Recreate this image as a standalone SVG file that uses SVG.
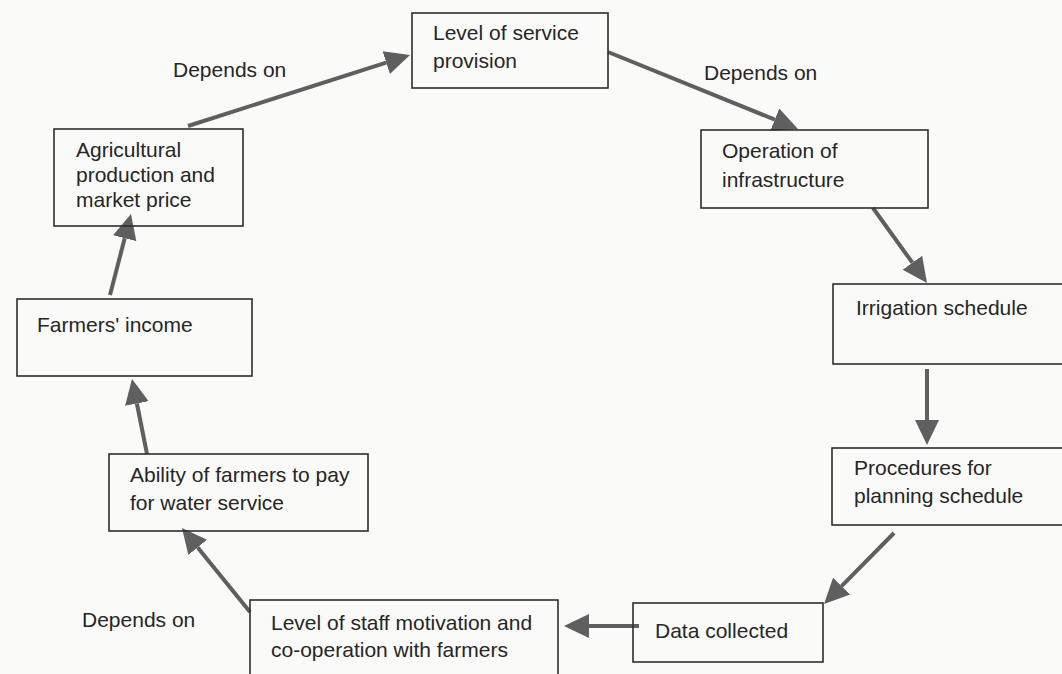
<svg xmlns="http://www.w3.org/2000/svg" width="1062" height="674" viewBox="0 0 1062 674">
  <style>
    .box { fill: none; stroke: #2e2e2e; stroke-width: 1.6; }
    .lbl { font-family: "Liberation Sans", Arial, sans-serif; font-size: 21px; fill: #262626; }
    .conn { stroke: #5f5f5f; stroke-width: 4; fill: none; marker-end: url(#head); }
  </style>
  <defs>
    <marker id="head" markerUnits="userSpaceOnUse" markerWidth="26" markerHeight="26" viewBox="0 -13 26 26" refX="0" refY="0" orient="auto">
      <path d="M0,-12 L25,0 L0,12 Z" fill="#5f5f5f"/>
    </marker>
  </defs>
  <rect width="1062" height="674" fill="#fafaf8"/>

  <!-- connectors (each path ends at the base of its arrowhead) -->
  <g id="connectors">
    <path class="conn" d="M188,126 L386.2,62.6"/>
    <path class="conn" d="M608,52 L774.8,119.6"/>
    <path class="conn" d="M873,208 L912.4,262.7"/>
    <path class="conn" d="M927,369 L927,420"/>
    <path class="conn" d="M894,533 L841.6,586.2"/>
    <path class="conn" d="M639,626 L589,626"/>
    <path class="conn" d="M250,612 L197.7,547.4"/>
    <path class="conn" d="M147,454 L136.9,403.5"/>
    <path class="conn" d="M110,295 L124.7,238.2"/>
  </g>

  <!-- edge labels -->
  <g id="edge-labels">
    <text class="lbl" x="173" y="77">Depends on</text>
    <text class="lbl" x="704" y="80">Depends on</text>
    <text class="lbl" x="82" y="627">Depends on</text>
  </g>

  <g id="service-level">
    <rect class="box" x="412" y="13" width="196" height="75"/>
    <text class="lbl" x="433" y="40">Level of service</text>
    <text class="lbl" x="433" y="68">provision</text>
  </g>

  <g id="operation">
    <rect class="box" x="701" y="130" width="227" height="78"/>
    <text class="lbl" x="722" y="158">Operation of</text>
    <text class="lbl" x="722" y="187">infrastructure</text>
  </g>

  <g id="irrigation-schedule">
    <rect class="box" x="833" y="284" width="240" height="80"/>
    <text class="lbl" x="856" y="315">Irrigation schedule</text>
  </g>

  <g id="planning-procedures">
    <rect class="box" x="832" y="448" width="240" height="77"/>
    <text class="lbl" x="854" y="475">Procedures for</text>
    <text class="lbl" x="854" y="503">planning schedule</text>
  </g>

  <g id="data-collected">
    <rect class="box" x="633" y="603" width="190" height="59"/>
    <text class="lbl" x="655" y="638">Data collected</text>
  </g>

  <g id="staff-motivation">
    <rect class="box" x="250" y="600" width="308" height="90"/>
    <text class="lbl" x="271" y="630">Level of staff motivation and</text>
    <text class="lbl" x="271" y="657">co-operation with farmers</text>
  </g>

  <g id="ability-to-pay">
    <rect class="box" x="109" y="454" width="259" height="77"/>
    <text class="lbl" x="130" y="482">Ability of farmers to pay</text>
    <text class="lbl" x="130" y="510">for water service</text>
  </g>

  <g id="farmers-income">
    <rect class="box" x="17" y="299" width="235" height="77"/>
    <text class="lbl" x="37" y="332">Farmers' income</text>
  </g>

  <g id="agricultural-production">
    <rect class="box" x="54" y="129" width="189" height="97"/>
    <text class="lbl" x="76" y="157">Agricultural</text>
    <text class="lbl" x="76" y="182">production and</text>
    <text class="lbl" x="76" y="207">market price</text>
  </g>
</svg>
